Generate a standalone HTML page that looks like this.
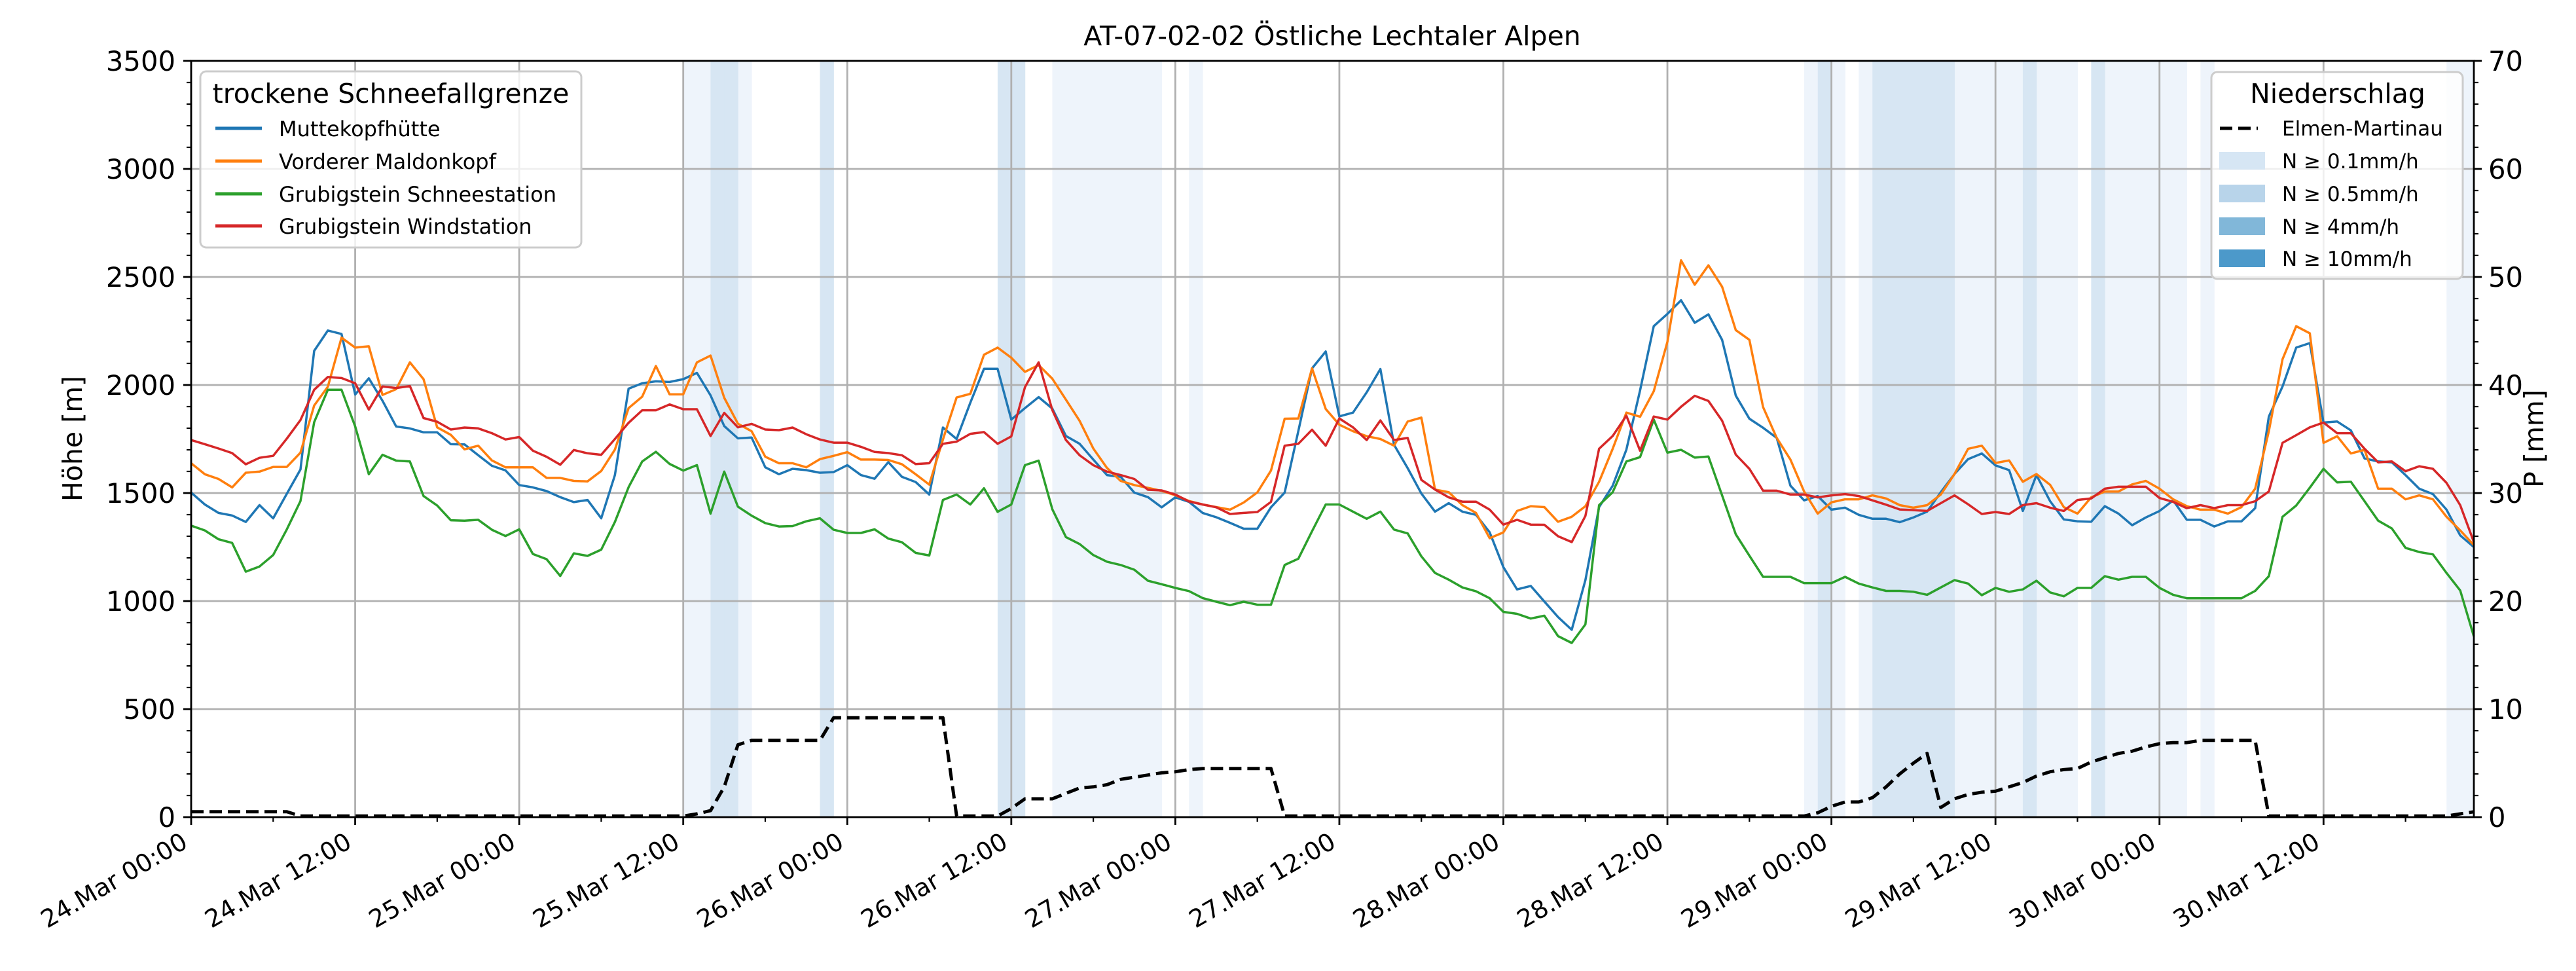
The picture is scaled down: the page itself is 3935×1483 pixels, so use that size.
<!DOCTYPE html>
<html><head><meta charset="utf-8">
<style>
html,body{margin:0;padding:0;background:#fff;}
svg{display:block;font-family:"DejaVu Sans","Liberation Sans",sans-serif;}
</style></head>
<body>
<svg id="chart" xmlns="http://www.w3.org/2000/svg" width="3935" height="1483" viewBox="0 0 3935 1483">
<rect x="0" y="0" width="3935" height="1483" fill="#ffffff"/>
<g id="bands"></g>
<g id="grid"></g>
<g id="series"></g>
<g id="axes"></g>
<text x="2035" y="69" font-size="41" text-anchor="middle">AT-07-02-02 Östliche Lechtaler Alpen</text>
<text transform="translate(125,670) rotate(-90)" font-size="41" text-anchor="middle">Höhe [m]</text>
<text transform="translate(3885,670) rotate(-90)" font-size="41" text-anchor="middle">P [mm]</text>
<g>
  <rect x="306" y="109" width="582" height="269" rx="9" fill="#ffffff" fill-opacity="0.8" stroke="#cccccc" stroke-width="3"/>
  <text x="597" y="157" font-size="41" text-anchor="middle">trockene Schneefallgrenze</text>
  <g><line x1="329" y1="196" x2="400" y2="196" stroke="#1f77b4" stroke-width="5"/><text x="426" y="208" font-size="32">Muttekopfhütte</text></g>
  <g><line x1="329" y1="246" x2="400" y2="246" stroke="#ff7f0e" stroke-width="5"/><text x="426" y="258" font-size="32">Vorderer Maldonkopf</text></g>
  <g><line x1="329" y1="296" x2="400" y2="296" stroke="#2ca02c" stroke-width="5"/><text x="426" y="308" font-size="32">Grubigstein Schneestation</text></g>
  <g><line x1="329" y1="345" x2="400" y2="345" stroke="#d62728" stroke-width="5"/><text x="426" y="357" font-size="32">Grubigstein Windstation</text></g>
</g>
<g>
  <rect x="3378" y="110" width="384" height="316" rx="9" fill="#ffffff" fill-opacity="0.8" stroke="#cccccc" stroke-width="3"/>
  <text x="3571" y="157" font-size="41" text-anchor="middle">Niederschlag</text>
  <g><line x1="3391" y1="196" x2="3449" y2="196" stroke="#000" stroke-width="5" stroke-dasharray="19,9"/><text x="3486" y="207" font-size="31">Elmen-Martinau</text></g>
  <g><rect x="3390" y="232" width="70" height="27" fill="#d6e6f4"/><text x="3486" y="257" font-size="31">N ≥ 0.1mm/h</text></g>
  <g><rect x="3390" y="282" width="70" height="27" fill="#b8d4ea"/><text x="3486" y="307" font-size="31">N ≥ 0.5mm/h</text></g>
  <g><rect x="3390" y="332" width="70" height="27" fill="#81b7d9"/><text x="3486" y="357" font-size="31">N ≥ 4mm/h</text></g>
  <g><rect x="3390" y="381" width="70" height="27" fill="#4c99ca"/><text x="3486" y="406" font-size="31">N ≥ 10mm/h</text></g>
</g>
</svg>
<script>
const muttekopf = [1502,1447,1408,1396,1366,1444,1383,1497,1609,2158,2252,2236,1956,2031,1927,1808,1799,1781,1781,1726,1725,1675,1626,1605,1537,1526,1509,1481,1458,1468,1383,1583,1983,2008,2017,2014,2027,2056,1952,1810,1753,1757,1619,
1587,1612,1606,1594,1597,1629,1583,1566,1643,1575,1551,1493,1803,1750,1918,2075,2075,1840,1893,1944,1891,1764,1728,1655,1583,1575,1502,1481,1434,1480,1459,1408,1388,1362,1335,1335,1434,1502,1787,2077,2155,1855,1872,
1966,2074,1723,1615,1498,1414,1453,1414,1399,1318,1157,1054,1070,998,926,867,1097,1435,1534,1701,1975,2272,2329,2392,2288,2327,2209,1951,1844,1802,1755,1534,1466,1486,1423,1432,1399,1381,1381,1365,1387,
1414,1504,1588,1657,1683,1628,1606,1417,1583,1462,1378,1369,1367,1439,1405,1351,1387,1417,1466,1376,1376,1345,1369,1369,1430,1854,1993,2173,2194,1826,1831,1790,1660,1646,1642,1583,1520,1495,1423,1304,1250];
const maldonkopf = [1638,1587,1565,1526,1594,1599,1621,1621,1687,1905,1992,2219,2173,2179,1954,1981,2105,2027,1804,1769,1702,1719,1651,1619,1619,1619,1570,1570,1556,1554,1602,1701,1893,1946,2088,1957,1957,2105,2136,1941,1821,1786,1668,
1638,1638,1619,1657,1672,1689,1655,1655,1653,1633,1587,1539,1748,1942,1959,2140,2173,2126,2061,2092,2029,1932,1834,1706,1616,1556,1537,1524,1510,1490,1463,1447,1435,1423,1456,1503,1604,1844,1845,2077,1889,1816,1786,
1763,1750,1719,1831,1849,1516,1504,1444,1408,1291,1318,1417,1439,1435,1367,1390,1439,1552,1705,1872,1853,1971,2200,2577,2464,2554,2455,2254,2209,1898,1755,1655,1507,1405,1457,1471,1471,1489,1475,1444,1432,
1444,1493,1588,1705,1719,1639,1651,1552,1588,1538,1435,1405,1480,1507,1507,1540,1556,1520,1471,1439,1423,1423,1405,1435,1520,1786,2119,2272,2239,1732,1763,1683,1700,1520,1520,1471,1489,1471,1390,1327,1259];
const schneestation = [1349,1327,1286,1269,1136,1160,1213,1332,1463,1828,1978,1978,1808,1587,1677,1650,1646,1486,1442,1374,1372,1376,1330,1301,1332,1218,1194,1116,1221,1209,1238,1366,1527,1646,1691,1635,1604,1629,1405,1599,1437,1395,1361,
1345,1347,1369,1383,1330,1315,1315,1332,1289,1272,1223,1211,1468,1493,1447,1522,1413,1447,1629,1650,1425,1296,1264,1213,1182,1167,1145,1094,1078,1061,1046,1014,997,981,997,983,983,1167,1196,1323,1447,1447,1414,
1381,1414,1331,1313,1207,1130,1099,1063,1045,1013,950,941,919,932,838,806,892,1444,1504,1646,1666,1840,1687,1700,1664,1669,1489,1309,1210,1112,1112,1112,1083,1083,1083,1112,1081,1063,1047,1047,1043,
1029,1063,1097,1081,1027,1061,1043,1054,1094,1040,1022,1061,1061,1115,1099,1112,1112,1061,1029,1013,1013,1013,1013,1013,1047,1115,1390,1442,1525,1612,1549,1552,1462,1372,1336,1246,1227,1216,1130,1049,836];
const windstation = [1745,1726,1706,1685,1633,1663,1672,1752,1838,1978,2037,2032,2008,1886,1993,1986,1995,1847,1830,1794,1803,1799,1777,1748,1759,1696,1668,1631,1699,1684,1677,1750,1825,1883,1883,1910,1888,1888,1764,1871,1804,1820,1794,
1791,1803,1772,1748,1733,1733,1714,1690,1685,1675,1634,1638,1728,1738,1774,1782,1728,1762,1990,2105,1884,1745,1675,1629,1599,1583,1565,1515,1512,1493,1461,1447,1434,1403,1408,1412,1459,1719,1728,1793,1719,1845,1804,
1745,1836,1745,1755,1561,1516,1480,1460,1460,1423,1354,1376,1354,1353,1300,1273,1394,1705,1764,1858,1696,1854,1840,1899,1950,1926,1835,1678,1612,1511,1511,1493,1493,1480,1489,1495,1486,1466,1446,1424,1421,
1417,1453,1489,1448,1403,1412,1403,1444,1453,1432,1417,1468,1475,1520,1529,1529,1529,1477,1459,1430,1444,1430,1444,1444,1462,1507,1732,1768,1804,1826,1777,1777,1705,1642,1646,1601,1624,1612,1547,1444,1273];
const precipMm = [0.5,0.5,0.5,0.5,0.5,0.5,0.5,0.5,
0.1,0.1,0.1,0.1,0.1,0.1,0.1,0.1,0.1,0.1,0.1,0.1,0.1,0.1,0.1,0.1,0.1,0.1,0.1,0.1,0.1,0.1,0.1,0.1,0.1,0.1,0.1,0.1,0.1,
0.3,0.6,2.8,6.7,7.1,7.1,7.1,7.1,7.1,7.1,9.2,9.2,9.2,9.2,9.2,9.2,9.2,9.2,9.2,0.1,0.1,0.1,0.1,0.8,1.7,1.7,1.7,2.2,2.7,2.8,3.0,3.5,3.7,3.9,4.1,4.2,4.4,4.5,4.5,4.5,4.5,4.5,4.5,
0.1,0.1,0.1,0.1,0.1,0.1,0.1,0.1,0.1,0.1,0.1,0.1,0.1,0.1,0.1,0.1,0.1,0.1,0.1,0.1,0.1,0.1,0.1,0.1,0.1,0.1,0.1,0.1,0.1,0.1,0.1,0.1,0.1,0.1,0.1,0.1,0.1,0.1,0.1,
0.4,1.0,1.4,1.4,1.8,2.8,4.0,5.0,5.9,0.9,1.7,2.1,2.3,2.4,2.8,3.2,3.8,4.2,4.4,4.5,5.1,5.5,5.9,6.1,6.5,6.8,6.9,6.9,7.1,7.1,7.1,7.1,7.1,
0.1,0.1,0.1,0.1,0.1,0.1,0.1,0.1,0.1,0.1,0.1,0.1,0.1,0.1,0.3,0.5];
const bandLightHours = [36,37,40,63,64,65,66,67,68,69,70,73,118,120,122,129,130,131,132,133,135,136,137,140,141,142,143,144,145,147,165,166];
const bandMediumHours = [38,39,46,59,60,119,123,124,125,126,127,128,134,139];
const xTickLabels = ["24.Mar 00:00","24.Mar 12:00","25.Mar 00:00","25.Mar 12:00","26.Mar 00:00","26.Mar 12:00","27.Mar 00:00","27.Mar 12:00","28.Mar 00:00","28.Mar 12:00","29.Mar 00:00","29.Mar 12:00","30.Mar 00:00","30.Mar 12:00"];
const xTickHours = [0,12,24,36,48,60,72,84,96,108,120,132,144,156];
const yLeftTicks = [0,500,1000,1500,2000,2500,3000,3500];
const yRightTicks = [0,10,20,30,40,50,60,70];

const NS = "http://www.w3.org/2000/svg";
const X0 = 292, X1 = 3779, Y0 = 1248, Y1 = 93, HMAX = 167;
const xs = h => X0 + h * (X1 - X0) / HMAX;
const yL = v => Y0 - v * (Y0 - Y1) / 3500;
const yR = v => Y0 - v * (Y0 - Y1) / 70;
function mk(tag, attrs, parent) {
  const e = document.createElementNS(NS, tag);
  for (const k in attrs) e.setAttribute(k, attrs[k]);
  parent.appendChild(e);
  return e;
}
const gB = document.getElementById("bands");
const gG = document.getElementById("grid");
const gS = document.getElementById("series");
const gA = document.getElementById("axes");

bandLightHours.forEach(h => {
  const r = mk("rect", {x: xs(h), y: Y1, width: xs(h + 1) - xs(h) + 0.5, height: Y0 - Y1, fill: "#eef4fb"}, gB);
  
  
});
bandMediumHours.forEach(h => {
  const r = mk("rect", {x: xs(h), y: Y1, width: xs(h + 1) - xs(h) + 0.5, height: Y0 - Y1, fill: "#d7e6f3"}, gB);
  
  
});

xTickHours.forEach((h, i) => {
  const l = mk("line", {x1: xs(h), y1: Y1, x2: xs(h), y2: Y0, stroke: "#b0b0b0", "stroke-width": 2.8}, gG);
  
  
});
yLeftTicks.forEach(v => {
  const l = mk("line", {x1: X0, y1: yL(v), x2: X1, y2: yL(v), stroke: "#b0b0b0", "stroke-width": 2.8}, gG);
  
  
});

function drawSeries(arr, scale, color, name, dash, width) {
  const pts = arr.map((v, i) => xs(i).toFixed(1) + "," + scale(v).toFixed(1)).join(" ");
  const p = mk("polyline", {points: pts, fill: "none", stroke: color, "stroke-width": width, "stroke-linejoin": "round"}, gS);
  if (dash) p.setAttribute("stroke-dasharray", dash);
  
  
}
drawSeries(muttekopf, yL, "#1f77b4", "series-muttekopfhuette", null, 3.5);
drawSeries(maldonkopf, yL, "#ff7f0e", "series-vorderer-maldonkopf", null, 3.5);
drawSeries(schneestation, yL, "#2ca02c", "series-grubigstein-schneestation", null, 3.5);
drawSeries(windstation, yL, "#d62728", "series-grubigstein-windstation", null, 3.5);
drawSeries(precipMm, yR, "#000000", "series-precip-elmen-martinau", "19,9", 5);

const frame = mk("rect", {x: X0, y: Y1, width: X1 - X0, height: Y0 - Y1, fill: "none", stroke: "#000", "stroke-width": 2.8}, gA);



for (let v = 0; v <= 3500; v += 100) {
  const major = v % 500 === 0;
  const t = mk("line", {x1: X0 - (major ? 12 : 7), y1: yL(v), x2: X0, y2: yL(v), stroke: "#000", "stroke-width": major ? 2.8 : 2.2}, gA);
  
  
}
yLeftTicks.forEach(v => {
  const t = mk("text", {x: X0 - 24, y: yL(v) + 15, "font-size": 41.7, "text-anchor": "end"}, gA);
  t.textContent = String(v);
  
  
});
for (let v = 0; v <= 70; v += 2) {
  const major = v % 10 === 0;
  const t = mk("line", {x1: X1, y1: yR(v), x2: X1 + (major ? 12 : 7), y2: yR(v), stroke: "#000", "stroke-width": major ? 2.8 : 2.2}, gA);
  
  
}
yRightTicks.forEach(v => {
  const t = mk("text", {x: X1 + 22, y: yR(v) + 15, "font-size": 41.7, "text-anchor": "start"}, gA);
  t.textContent = String(v);
  
  
});
for (let h = 0; h <= HMAX; h += 6) {
  const major = h % 12 === 0;
  const t = mk("line", {x1: xs(h), y1: Y0, x2: xs(h), y2: Y0 + (major ? 12 : 7), stroke: "#000", "stroke-width": major ? 2.8 : 2.2}, gA);
  
  
}
xTickHours.forEach((h, i) => {
  const ax = xs(h) - 3, ay = 1293;
  const t = mk("text", {x: ax, y: ay, "font-size": 37.5, "text-anchor": "end", transform: "rotate(-30 " + ax + " " + ay + ")"}, gA);
  t.textContent = xTickLabels[i];
  
  
});
</script>
</body></html>
